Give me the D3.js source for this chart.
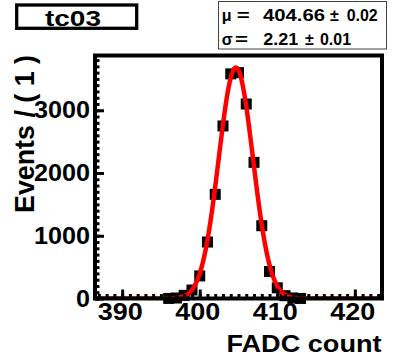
<!DOCTYPE html>
<html>
<head>
<meta charset="utf-8">
<script src="https://cdn.jsdelivr.net/npm/d3@7"></script>
<style>
  body { margin: 0; background: #fff; }
  text { font-family: 'Liberation Sans', Arial, sans-serif; font-weight: bold; fill: #000; }
</style>
</head>
<body>
<div id="chart"></div>
<script>
// histogram of tc03, one bin per FADC count
const binCenters = [387, 388, 389, 390, 391, 392, 393, 394, 395, 396, 397, 398, 399, 400, 401, 402, 403, 404, 405,
  406, 407, 408, 409, 410, 411, 412, 413, 414, 415, 416, 417, 418, 419, 420, 421, 422, 423];
const counts = [0, 0, 0, 0, 0, 0, 0, 0, 0, 1, 8, 50, 135, 360, 900, 1660, 2750, 3580, 3600,
  3100, 2170, 1160, 430, 170, 45, 8, 1, 0, 0, 0, 0, 0, 0, 0, 0, 0, 0];

// gaussian fit
const fitMean = 404.66;
const fitMeanErr = 0.02;
const fitSigma = 2.21;
const fitSigmaErr = 0.01;
const fitPeak = 3680;

const xTicks = [390, 400, 410, 420];
const yTicks = [0, 1000, 2000, 3000];
const chartTitle = 'tc03';

const width = 398, height = 361;
const frameLeft = 95, frameRight = 382, frameTop = 55.5, frameBottom = 298.5;

const svg = d3.select('#chart').append('svg')
  .attr('width', width)
  .attr('height', height);

svg.append('rect').attr('width', width).attr('height', height).attr('fill', '#fff');

svg.append('clipPath').attr('id', 'frame-clip')
  .append('rect')
  .attr('x', frameLeft).attr('y', frameTop)
  .attr('width', frameRight - frameLeft).attr('height', frameBottom - frameTop - 1);

const x = d3.scaleLinear().domain([386.5, 423.5]).range([frameLeft, frameRight]);
const y = d3.scaleLinear().domain([0, 3873]).range([frameBottom, frameTop]);

// data points
const points = binCenters.map((c, i) => ({ x: c, y: counts[i] })).filter(d => d.y > 0);
const ms = 11;
svg.append('g').selectAll('rect')
  .data(points)
  .enter()
  .append('rect')
  .attr('x', d => x(d.x) - ms / 2)
  .attr('y', d => y(d.y) - ms / 2)
  .attr('width', ms)
  .attr('height', ms)
  .attr('fill', '#000');

// fit curve
const gauss = v => fitPeak * Math.exp(-((v - fitMean) ** 2) / (2 * fitSigma * fitSigma));
const curveX = d3.range(386.5, 423.5001, 0.05);
svg.append('path')
  .datum(curveX)
  .attr('clip-path', 'url(#frame-clip)')
  .attr('fill', 'none')
  .attr('stroke', '#ff0000')
  .attr('stroke-width', 4.5)
  .attr('d', d3.line().x(v => x(v)).y(v => y(gauss(v))));

// axes (ticks inside the frame, thick like the frame)
const minorX = d3.range(387, 424);
const minorY = d3.range(0, 3873, 100);

function styleAxis(g) {
  g.select('.domain').remove();
  g.selectAll('line').attr('stroke', '#000').attr('stroke-width', 3);
}

svg.append('g')
  .attr('transform', `translate(0,${frameBottom})`)
  .call(d3.axisBottom(x).tickValues(minorX).tickSize(-4.5).tickFormat(''))
  .call(styleAxis);

const xAxis = svg.append('g')
  .attr('transform', `translate(0,${frameBottom})`)
  .call(d3.axisBottom(x).tickValues(xTicks).tickSize(-9).tickPadding(4).tickFormat(d3.format('d')))
  .call(styleAxis);
xAxis.selectAll('text')
  .attr('font-size', 24)
  .attr('font-family', 'Liberation Sans, Arial, sans-serif')
  .attr('font-weight', 'bold')
  .attr('dx', -2.5)
  .attr('textLength', d => String(d).length * 15)
  .attr('lengthAdjust', 'spacingAndGlyphs');

svg.append('g')
  .attr('transform', `translate(${frameLeft},0)`)
  .call(d3.axisLeft(y).tickValues(minorY).tickSize(-4.5).tickFormat(''))
  .call(styleAxis);

const yAxis = svg.append('g')
  .attr('transform', `translate(${frameLeft},0)`)
  .call(d3.axisLeft(y).tickValues(yTicks).tickSize(-9).tickPadding(5).tickFormat(d3.format('d')))
  .call(styleAxis);
yAxis.selectAll('text')
  .attr('font-size', 24)
  .attr('font-family', 'Liberation Sans, Arial, sans-serif')
  .attr('font-weight', 'bold')
  .attr('textLength', d => String(d).length * 14)
  .attr('lengthAdjust', 'spacingAndGlyphs');

// frame
svg.append('rect')
  .attr('x', frameLeft)
  .attr('y', frameTop)
  .attr('width', frameRight - frameLeft)
  .attr('height', frameBottom - frameTop)
  .attr('fill', 'none')
  .attr('stroke', '#000')
  .attr('stroke-width', 4);

// axis titles
svg.append('text')
  .attr('x', 381.5)
  .attr('y', 351.5)
  .attr('text-anchor', 'end')
  .attr('font-size', 24)
  .attr('textLength', 155)
  .attr('lengthAdjust', 'spacingAndGlyphs')
  .text('FADC count');

svg.append('text')
  .attr('transform', 'translate(34,55) rotate(-90)')
  .attr('text-anchor', 'end')
  .attr('font-size', 27)
  .attr('textLength', 158)
  .attr('lengthAdjust', 'spacingAndGlyphs')
  .text('Events / ( 1 )');

// title box
svg.append('rect')
  .attr('x', 16.7).attr('y', 5)
  .attr('width', 120).attr('height', 23.3)
  .attr('fill', '#fff')
  .attr('stroke', '#000')
  .attr('stroke-width', 3.3);

svg.append('text')
  .attr('x', 45)
  .attr('y', 25.5)
  .attr('font-size', 22)
  .attr('textLength', 56)
  .attr('lengthAdjust', 'spacingAndGlyphs')
  .text(chartTitle);

// fit parameter box
svg.append('rect')
  .attr('x', 218.5).attr('y', 1.5)
  .attr('width', 168).attr('height', 47.5)
  .attr('fill', '#fff')
  .attr('stroke', '#444')
  .attr('stroke-width', 1);

function statPart(px, baseline, s, w, plain) {
  const t = svg.append('text')
    .attr('x', px)
    .attr('y', baseline)
    .attr('font-size', 16)
    .text(s);
  if (plain) t.attr('font-weight', 'normal').attr('font-family', 'DejaVu Serif, serif');
  if (w) t.attr('textLength', w).attr('lengthAdjust', 'spacingAndGlyphs');
}

statPart(221.7, 20.7, 'μ', 0, true);
statPart(236.7, 20.7, '=', 13);
statPart(263, 20.7, fitMean.toFixed(2), 62);
statPart(330, 20.7, '±', 0, true);
statPart(346.7, 20.7, fitMeanErr.toFixed(2), 31);

statPart(221.7, 45, 'σ', 0, true);
statPart(235, 45, '=', 13);
statPart(263.3, 45, fitSigma.toFixed(2), 35);
statPart(305, 45, '±', 0, true);
statPart(320, 45, fitSigmaErr.toFixed(2), 31);
</script>
</body>
</html>
